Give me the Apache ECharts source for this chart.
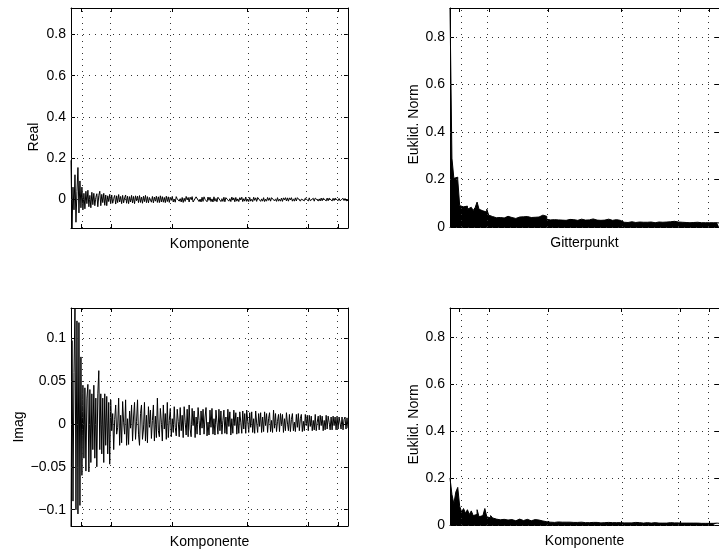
<!DOCTYPE html>
<html><head><meta charset="utf-8">
<script src="https://cdn.jsdelivr.net/npm/echarts@6/dist/echarts.min.js"></script>
<style>html,body{margin:0;padding:0;background:#fff}#c{width:719px;height:556px}</style>
</head><body><div id="c"></div>
<script>
// Real part per component (top left)
const realValues = [
0.19, -0.138, 0.06, -0.05, 0.12, -0.11, 0.04, 0.155, -0.065, 0.09,
-0.04, 0.06, -0.05, 0.03, -0.045, 0.04, -0.02, 0.045, -0.035, 0.02,
-0.04, 0.035, -0.025, 0.03, -0.03, 0.01, 0.028, -0.035, 0.02, 0.04,
-0.03, 0.025, -0.015, 0.03, -0.028, 0.022, -0.03, 0.018, -0.01, 0.025,
-0.02, 0.022, -0.018, 0.005, 0.02, -0.022, 0.018, -0.015, 0.024, -0.012,
0.015, -0.02, 0.02, -0.016, 0.008, 0.022, -0.018, 0.016, -0.02, 0.014,
-0.012, 0.02, -0.017, 0.015, -0.02, 0.018, -0.006, 0.016, -0.015, 0.019,
-0.014, 0.012, -0.018, 0.016, -0.01, 0.02, -0.015, 0.014, -0.016, 0.01,
0.017, -0.013, 0.015, -0.016, 0.012, -0.008, 0.016, -0.014, 0.013, -0.015,
0.018, -0.012, 0.014, -0.013, 0.01, -0.015, 0.016, -0.01, 0.013, -0.014,
0.012, -0.004, 0.015, -0.012, 0.002, -0.013, 0.014, 0.003, 0.012, -0.008,
0.004, -0.012, 0.01, -0.014, 0.006, -0.009, 0.015, -0.002, 0.01, -0.012,
0.011, 0.001, 0.014, -0.012, -0.003, -0.011, 0.013, 0.004, 0.012, -0.01,
0.002, -0.012, 0.011, -0.009, 0.013, 0.001, 0.008, -0.011, 0.012, -0.004,
0.011, -0.01, 0.003, -0.012, 0.013, -0.008, 0.005, -0.011, 0.011, 0.002,
0.012, -0.01, 0.004, -0.009, 0.011, -0.011, 0.009, 0.001, 0.013, -0.008,
0.004, -0.01, 0.012, -0.003, 0.008, -0.011, 0.01, -0.008, 0.003, -0.01,
0.009, -0.002, 0.011, -0.01, 0.004, -0.008, 0.012, -0.009, 0.002, -0.01,
0.01, -0.008, 0.002, -0.01, 0.011, -0.004, 0.008, -0.009, 0.01, 0.001,
0.009, -0.009, 0.003, -0.008, 0.009, -0.01, 0.002, -0.008, 0.01, -0.004,
0.008, -0.008, 0.009, 0.001, 0.01, -0.007, 0.003, -0.009, 0.009, -0.008,
0.002, -0.008, 0.007, -0.009, 0.008, -0.002, 0.009, -0.007, 0.008, -0.008,
0.008, -0.002, 0.009, -0.008, 0.003, -0.008, 0.008, -0.007, 0.009, 0.001,
0.007, -0.008, 0.002, -0.007, 0.008, -0.006, 0.007, -0.001, 0.007, -0.007,
0.008, -0.006, 0.002, -0.007, 0.006, -0.008, 0.007, 0.001, 0.008, -0.007,
0.003, -0.007, 0.007, -0.006, 0.007, -0.002, 0.006, -0.007, 0.007, -0.006,
0.007, -0.001, 0.006, -0.007, 0.006, -0.005, 0.007, -0.002, 0.006, -0.006,
0.005, -0.006, 0.002, -0.005, 0.006, -0.005, 0.005, -0.006, 0.001, -0.004
];
// Imaginary part per component (bottom left)
const imagValues = [
-0.119, 0.097, -0.09, 0.06, 0.135, -0.1, 0.12, -0.105, 0.118, -0.095,
0.078, -0.06, 0.045, -0.04, 0.042, -0.055, 0.03, 0.046, -0.056, 0.04,
-0.045, 0.035, -0.03, 0.045, -0.04, 0.03, -0.05, 0.035, 0.062, -0.03,
0.035, -0.035, 0.03, -0.045, 0.035, -0.025, 0.032, -0.035, 0.025, -0.047,
0.028, -0.008, 0.012, -0.03, 0.005, 0.022, -0.012, -0.004, 0.03, -0.025,
0.01, -0.022, 0.026, 0.002, -0.012, 0.028, -0.025, 0.006, -0.024, 0.015,
-0.005, 0.022, -0.02, 0.008, 0.025, -0.018, 0.003, 0.028, -0.012, -0.025,
0.012, 0.022, -0.018, -0.006, 0.025, -0.02, 0.01, -0.022, 0.02, -0.004,
0.016, -0.017, 0.004, 0.022, -0.02, 0.009, -0.016, 0.03, -0.008, -0.015,
0.018, 0.002, -0.02, 0.022, -0.006, 0.012, -0.018, 0.025, -0.016, 0.004,
0.018, -0.015, 0.006, -0.01, 0.02, -0.004, -0.014, 0.017, 0.003, -0.015,
0.019, -0.008, 0.01, -0.016, 0.02, 0.002, -0.013, 0.017, -0.015, 0.022,
-0.006, -0.015, 0.018, -0.002, 0.015, -0.016, 0.008, -0.012, 0.019, 0.004,
-0.013, 0.015, -0.005, 0.017, -0.012, 0.008, 0.019, -0.014, 0.002, -0.013,
0.016, -0.004, 0.018, -0.012, 0.006, -0.013, 0.016, 0.002, -0.012, 0.017,
-0.008, 0.015, -0.012, 0.004, 0.016, -0.011, 0.008, -0.012, 0.017, -0.003,
0.014, -0.013, 0.006, -0.011, 0.016, -0.002, 0.013, -0.012, 0.008, -0.011,
0.014, 0.002, -0.011, 0.015, -0.006, 0.012, -0.011, 0.016, 0.003, -0.01,
0.013, -0.004, 0.014, -0.01, 0.006, -0.011, 0.015, 0.001, -0.01, 0.012,
-0.003, 0.013, -0.01, 0.008, -0.009, 0.014, -0.002, 0.012, -0.01, 0.006,
0.013, -0.009, 0.004, -0.01, 0.016, -0.005, 0.012, -0.009, 0.003, 0.011,
-0.009, 0.012, -0.002, 0.011, -0.01, 0.006, -0.008, 0.013, 0.001, -0.008,
0.011, -0.009, 0.005, 0.012, -0.008, 0.002, -0.009, 0.011, -0.004, 0.012,
-0.008, 0.006, 0.011, -0.009, 0.003, -0.008, 0.011, -0.002, 0.01, -0.008,
0.01, -0.003, 0.009, -0.008, 0.004, -0.007, 0.011, -0.008, 0.002, 0.009,
-0.007, 0.01, -0.002, 0.009, -0.008, 0.004, -0.007, 0.01, -0.006, 0.009,
0.002, -0.007, 0.008, -0.007, 0.009, -0.002, 0.008, -0.007, 0.009, -0.006,
0.008, 0.001, -0.006, 0.008, -0.007, 0.005, 0.008, -0.006, 0.007, -0.005
];
// Euclidean norm per grid point (top right)
const normGridValues = [
0.923, 0.29, 0.205, 0.21, 0.2, 0.09, 0.085, 0.08, 0.088, 0.075,
0.083, 0.078, 0.07, 0.082, 0.105, 0.075, 0.068, 0.072, 0.063, 0.075,
0.05, 0.044, 0.041, 0.039, 0.037, 0.04, 0.036, 0.038, 0.041, 0.045,
0.043, 0.04, 0.038, 0.036, 0.039, 0.042, 0.044, 0.043, 0.046, 0.044,
0.042, 0.04, 0.043, 0.041, 0.039, 0.042, 0.047, 0.05, 0.048, 0.045,
0.032, 0.03, 0.029, 0.031, 0.028, 0.03, 0.027, 0.029, 0.03, 0.028,
0.03, 0.032, 0.029, 0.031, 0.03, 0.028, 0.03, 0.033, 0.031, 0.029,
0.028, 0.03, 0.032, 0.034, 0.03, 0.029, 0.031, 0.028, 0.03, 0.029,
0.031, 0.033, 0.03, 0.028, 0.029, 0.031, 0.03, 0.028, 0.022, 0.02,
0.021, 0.019, 0.02, 0.022, 0.021, 0.019, 0.02, 0.021, 0.019, 0.02,
0.022, 0.02, 0.019, 0.021, 0.02, 0.018, 0.02, 0.021, 0.019, 0.02,
0.019, 0.021, 0.02, 0.022, 0.021, 0.024, 0.025, 0.021, 0.019, 0.02,
0.018, 0.019, 0.02, 0.018, 0.017, 0.019, 0.018, 0.02, 0.019, 0.018,
0.017, 0.018, 0.019, 0.018, 0.017, 0.018, 0.016, 0.018, 0.017, 0.017
];
// Euclidean norm per component (bottom right)
const normCompValues = [
0.2, 0.13, 0.09, 0.14, 0.16, 0.08, 0.055, 0.07, 0.05, 0.065,
0.045, 0.06, 0.04, 0.045, 0.065, 0.035, 0.04, 0.045, 0.07, 0.035,
0.03, 0.04, 0.03, 0.025, 0.028, 0.022, 0.02, 0.024, 0.018, 0.021,
0.019, 0.023, 0.02, 0.018, 0.022, 0.025, 0.021, 0.019, 0.02, 0.024,
0.022, 0.018, 0.02, 0.023, 0.026, 0.021, 0.019, 0.017, 0.015, 0.014,
0.013, 0.012, 0.013, 0.011, 0.012, 0.013, 0.011, 0.012, 0.01, 0.012,
0.011, 0.012, 0.01, 0.011, 0.013, 0.011, 0.01, 0.012, 0.011, 0.01,
0.011, 0.01, 0.012, 0.011, 0.01, 0.011, 0.01, 0.009, 0.011, 0.01,
0.01, 0.011, 0.009, 0.01, 0.011, 0.01, 0.009, 0.01, 0.011, 0.009,
0.01, 0.009, 0.01, 0.009, 0.01, 0.011, 0.009, 0.01, 0.009, 0.008,
0.009, 0.01, 0.009, 0.008, 0.009, 0.01, 0.009, 0.008, 0.009, 0.008,
0.009, 0.008, 0.009, 0.01, 0.008, 0.009, 0.008, 0.009, 0.008, 0.008,
0.009, 0.008, 0.007, 0.008, 0.009, 0.008, 0.007, 0.008, 0.008, 0.007,
0.008, 0.007, 0.008, 0.007, 0.008, 0.007, 0.007, 0.008, 0.007, 0.007
];
// x tick positions (fraction of axis, unlabeled in original)
const xGridTicks = [0.036, 0.145, 0.364, 0.636, 0.855, 0.964];
const yTicksReal = [0, 0.2, 0.4, 0.6, 0.8];
const yTicksImag = [-0.1, -0.05, 0, 0.05, 0.1];
const yTicksNorm = [0, 0.2, 0.4, 0.6, 0.8];

const FONT = 'Liberation Sans, Arial, Helvetica, sans-serif';
const panels = [
  {values: realValues, yTicks: yTicksReal, ymin: -0.138, ymax: 0.928, xName: 'Komponente', yName: 'Real', bars: false,
   left: 71, top: 8, width: 277, height: 220, yGap: 30, yPad: 38},
  {values: normGridValues, yTicks: yTicksNorm, ymin: 0, ymax: 0.923, xName: 'Gitterpunkt', yName: 'Euklid. Norm', bars: true,
   left: 450, top: 8, width: 278, height: 219, yGap: 29, yPad: 14},
  {values: imagValues, yTicks: yTicksImag, ymin: -0.119, ymax: 0.135, xName: 'Komponente', yName: 'Imag', bars: false,
   left: 71, top: 308, width: 277, height: 218, yGap: 45, yPad: 20},
  {values: normCompValues, yTicks: yTicksNorm, ymin: 0, ymax: 0.923, xName: 'Komponente', yName: 'Euklid. Norm', bars: true,
   left: 450, top: 308, width: 278, height: 217, yGap: 29, yPad: 16}
];

const grid = [], xAxis = [], yAxis = [], series = [];
const lineAx = {show: true, onZero: false, lineStyle: {color: '#000', width: 1}};
function ticks(vals) {
  return {show: true, inside: true, length: 4, customValues: vals, lineStyle: {color: '#000', width: 1}};
}
panels.forEach((p, k) => {
  grid.push({left: p.left, top: p.top, width: p.width, height: p.height, show: false});
  xAxis.push({gridIndex: k, type: 'value', min: 0, max: 1, position: 'bottom',
    axisLine: lineAx, axisTick: ticks(xGridTicks),
    axisLabel: {show: false}, splitLine: {show: false},
    name: p.xName, nameLocation: 'middle', nameGap: 9,
    nameTextStyle: {fontFamily: FONT, fontSize: 14, color: '#000'}});
  xAxis.push({gridIndex: k, type: 'value', min: 0, max: 1, position: 'top',
    axisLine: lineAx, axisTick: ticks(xGridTicks),
    axisLabel: {show: false}, splitLine: {show: false}});
  yAxis.push({gridIndex: k, type: 'value', min: p.ymin, max: p.ymax, position: 'left',
    axisLine: lineAx, axisTick: ticks(p.yTicks),
    axisLabel: {show: true, customValues: p.yTicks, margin: 5, fontFamily: FONT, fontSize: 14, color: '#000',
      formatter: v => String(+(+v).toFixed(3)).replace('-', '\u2212')},
    splitLine: {show: false},
    name: p.yName, nameLocation: 'middle', nameGap: p.yGap,
    nameTextStyle: {fontFamily: FONT, fontSize: 14, color: '#000', padding: [0, p.yPad, 0, 0]}});
  yAxis.push({gridIndex: k, type: 'value', min: p.ymin, max: p.ymax, position: 'right',
    axisLine: lineAx, axisTick: ticks(p.yTicks),
    axisLabel: {show: false}, splitLine: {show: false}});
  // dotted grid lines
  series.push({type: 'line', xAxisIndex: 2 * k, yAxisIndex: 2 * k, data: [], z: 1, silent: true,
    markLine: {silent: true, symbol: ['none', 'none'], label: {show: false}, animation: false,
      lineStyle: {color: '#333', type: [1, 5], width: 1},
      emphasis: {disabled: true},
      data: xGridTicks.map(v => ({xAxis: v})).concat(p.yTicks.map(v => ({yAxis: v})))}});
  const n = p.values.length;
  const s = {type: 'line', xAxisIndex: 2 * k, yAxisIndex: 2 * k, z: 2, silent: true,
    data: p.values.map((v, i) => [i / (n - 1), v]), sampling: false,
    showSymbol: false, symbol: 'none', lineStyle: {color: '#000', width: 1}, clip: true};
  if (p.bars) { s.step = 'end'; s.areaStyle = {color: '#000', opacity: 1}; }
  series.push(s);
});

const chart = echarts.init(document.getElementById('c'), null, {renderer: 'canvas'});
chart.setOption({animation: false, backgroundColor: '#fff', grid, xAxis, yAxis, series});
</script></body></html>
